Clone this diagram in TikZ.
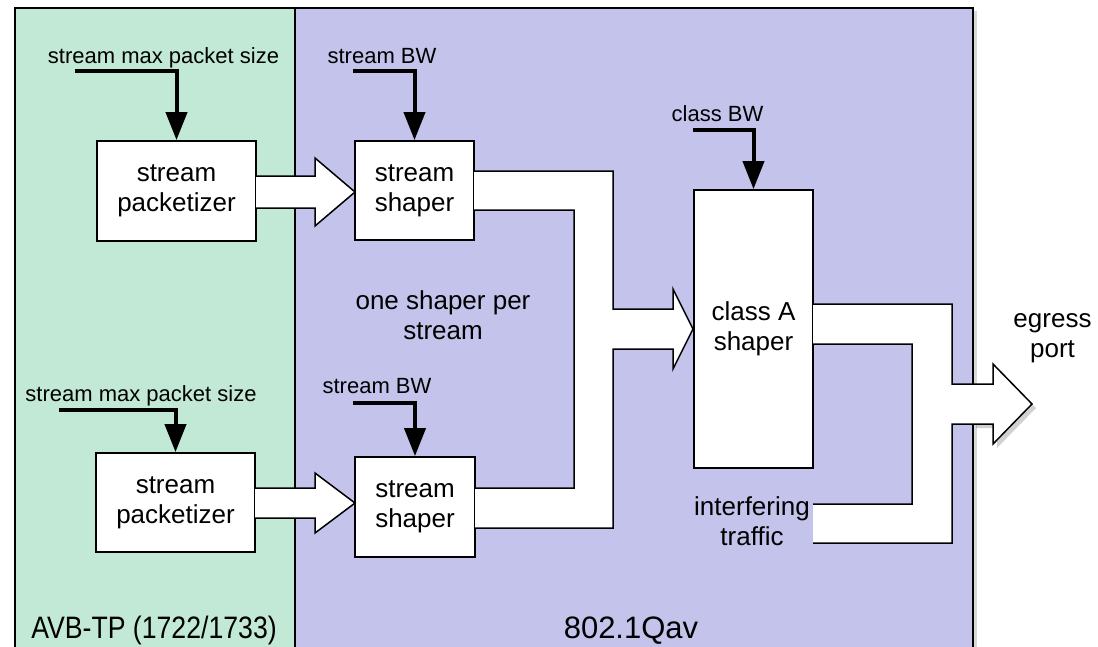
\documentclass[tikz,border=0pt]{standalone}
\usepackage{fontspec}
\setmainfont{Liberation Sans}
\usepackage{xcolor}
\usepackage{graphicx}
\usetikzlibrary{
    arrows.meta,
    shadows,
    calc,
    positioning
}
\definecolor{avbgreen}{RGB}{194,232,214}
\definecolor{qavblue}{RGB}{195,195,235}
\tikzset{
    block/.style={draw, line width=1.8pt, fill=white, inner sep=0pt, align=center,
        font=\fontsize{26}{30}\selectfont},
    smalltext/.style={inner sep=0pt, anchor=base, font=\fontsize{22}{26}\selectfont},
    bigtext/.style={inner sep=0pt, align=center, font=\fontsize{26}{30}\selectfont},
    areatext/.style={inner sep=0pt, anchor=base, font=\fontsize{31}{36}\selectfont},
    ctrl/.style={line width=4pt, -{Triangle[width=21pt,length=28pt]}},
    fatline/.style={line width=1.5pt, line join=miter}
}

\begin{document}
\begin{tikzpicture}[x=1pt, y=-1pt]
    \useasboundingbox (0,0) rectangle (1098,646);

    % the two areas
    \path[fill=qavblue, drop shadow={opacity=0.3, shadow xshift=4pt, shadow yshift=-3pt}]
    (15, 8) rectangle (973, 670);
    \fill[avbgreen] (15, 8) rectangle (295, 670);
    \draw[line width=2pt]
    (15, 670) -- (15, 8) -- (973, 8) -- (973, 670)
    (295, 8) -- (295, 670);
    \node[areatext] (avbtp) at (154, 638) {\scalebox{0.86}[1]{AVB-TP (1722/1733)}};
    \node[areatext] (qav) at (631, 638) {802.1Qav};

    % blocks
    \node[block, minimum width=159pt, minimum height=100pt] (pack1) at (176.5, 191) {stream\\packetizer};
    \node[block, minimum width=159pt, minimum height=99pt] (pack2) at (175.5, 502.5) {stream\\packetizer};
    \node[block, minimum width=119pt, minimum height=99pt] (shape1) at (414.5, 190.5) {stream\\shaper};
    \node[block, minimum width=120pt, minimum height=100pt] (shape2) at (415, 507) {stream\\shaper};
    \node[block, minimum width=119pt, minimum height=278pt] (classA) at (753.5, 329) {class A\\shaper};

    % parameters
    \node[smalltext] (maxsz1) at (163.5, 63) {stream max packet size};
    \node[smalltext] (maxsz2) at (141, 401) {stream max packet size};
    \node[smalltext] (bw1) at (382, 63) {stream BW};
    \node[smalltext] (bw2) at (377, 393) {stream BW};
    \node[smalltext] (clsbw) at (717.5, 121) {class BW};
    \coordinate (inmax1) at (75, 71);
    \coordinate (inmax2) at (59, 410);
    \coordinate (inbw1) at (353, 71);
    \coordinate (inbw2) at (353, 403);
    \coordinate (incls) at (693, 130);
    \draw[ctrl] (inmax1) -| (pack1.north);
    \draw[ctrl] (inmax2) -| (pack2.north);
    \draw[ctrl] (inbw1) -| (shape1.north);
    \draw[ctrl] (inbw2) -| (shape2.north);
    \draw[ctrl] (incls) -| (classA.north);

    % packetizer to shaper
    \filldraw[fatline, fill=white]
    (256, 176) -- (315, 176) -- (315, 158) -- (355, 192) -- (315, 226) -- (315, 208) -- (256, 208);
    \filldraw[fatline, fill=white]
    (255, 488) -- (315, 488) -- (315, 473) -- (355, 503) -- (315, 533) -- (315, 518) -- (255, 518);

    % shapers merged into class A
    \fill[white]
    (474, 171) -- (613, 171) -- (613, 309) -- (673, 309) -- (673, 289) -- (693, 329)
    -- (673, 369) -- (673, 349) -- (613, 349) -- (613, 528) -- (475, 528)
    -- (475, 488) -- (574, 488) -- (574, 210) -- (474, 210) -- cycle;
    \draw[fatline]
    (474, 171) -- (613, 171) -- (613, 309) -- (673, 309) -- (673, 289) -- (693, 329)
    -- (673, 369) -- (673, 349) -- (613, 349) -- (613, 528) -- (475, 528)
    (475, 488) -- (574, 488) -- (574, 210) -- (474, 210);
    \node[bigtext] (oneper) at (443, 315) {one shaper per\\stream};

    % egress with interfering traffic
    \fill[black, opacity=0.18]
    (976, 388) -- (997, 388) -- (997, 368) -- (1036, 408) -- (997, 448) -- (997, 428) -- (976, 428) -- cycle;
    \fill[white]
    (813, 304) -- (952, 304) -- (952, 384) -- (993, 384) -- (993, 364) -- (1032, 404)
    -- (993, 444) -- (993, 424) -- (952, 424) -- (952, 543) -- (813, 543)
    -- (813, 504) -- (912, 504) -- (912, 344) -- (813, 344) -- cycle;
    \draw[fatline]
    (813, 304) -- (952, 304) -- (952, 384) -- (993, 384) -- (993, 364) -- (1032, 404)
    -- (993, 444) -- (993, 424) -- (952, 424) -- (952, 543) -- (813, 543)
    (813, 504) -- (912, 504) -- (912, 344) -- (813, 344);
    \node[bigtext] (interf) at (752, 521) {interfering\\traffic};
    \node[bigtext] (egress) at (1052.5, 338) {egress\\port};
\end{tikzpicture}
\end{document}
